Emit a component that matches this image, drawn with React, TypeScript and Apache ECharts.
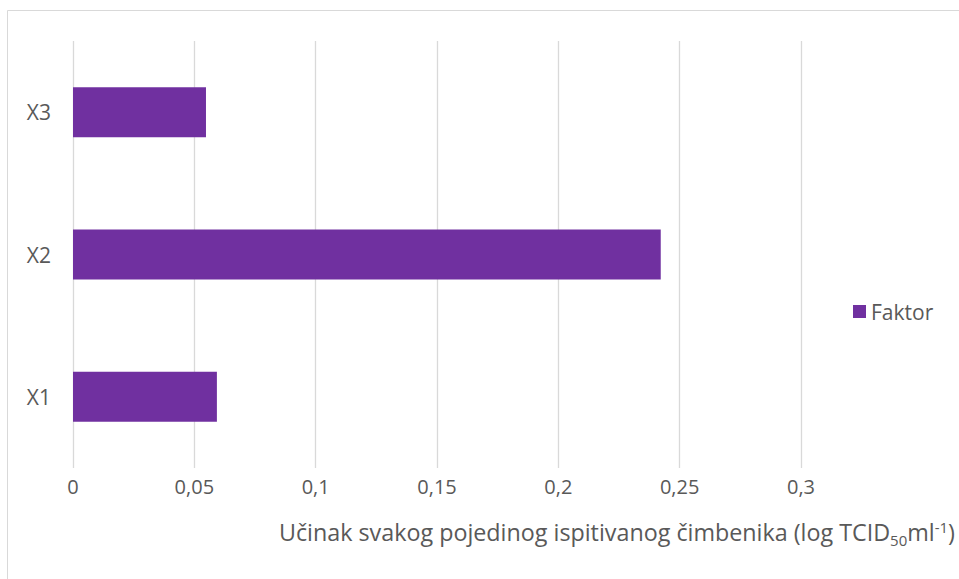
import React, { useEffect, useRef } from "react";
import * as echarts from "echarts";

const categories = ["X1", "X2", "X3"];
const values = [0.0593, 0.2422, 0.0548];
const seriesName = "Faktor";
const xTicks = { min: 0, max: 0.3, interval: 0.05 };

export default function App() {
  const ref = useRef<HTMLDivElement>(null);
  useEffect(() => {
    if (!ref.current) return;
    const chart = echarts.init(ref.current, null, { renderer: "svg" });
    const font = "'Open Sans', sans-serif";
    chart.setOption({
      animation: false,
      backgroundColor: "#ffffff",
      textStyle: { fontFamily: font },
      grid: { left: 73, right: 158, top: 41, bottom: 111, containLabel: false },
      legend: {
        data: [seriesName],
        left: 848,
        top: 296,
        itemWidth: 13,
        itemHeight: 13,
        itemGap: 6,
        icon: "rect",
        textStyle: { color: "#595959", fontSize: 21, fontFamily: font },
      },
      xAxis: {
        type: "value",
        min: xTicks.min,
        max: xTicks.max,
        interval: xTicks.interval,
        axisLine: { show: false },
        axisTick: { show: false },
        splitLine: { show: true, lineStyle: { color: "#d9d9d9", width: 1.3 } },
        axisLabel: {
          color: "#595959",
          fontSize: 20,
          fontFamily: font,
          margin: 8,
          formatter: (v: number) => String(Math.round(v * 100) / 100).replace(".", ","),
        },
      },
      yAxis: {
        type: "category",
        data: categories,
        axisLine: { show: false },
        axisTick: { show: false },
        axisLabel: { color: "#595959", fontSize: 21, fontFamily: font, margin: 22 },
      },
      series: [
        {
          name: seriesName,
          type: "bar",
          data: values,
          barWidth: 50,
          itemStyle: { color: "#7030A0" },
        },
      ],
      graphic: [
        {
          type: "rect",
          shape: { x: 7.5, y: 10.5, width: 2000, height: 2000 },
          style: { fill: "none", stroke: "#d9d9d9", lineWidth: 1 },
          silent: true,
        },
        {
          type: "text",
          right: 4,
          top: 515,
          style: {
            text: "{m|Učinak svakog pojedinog ispitivanog čimbenika (log TCID}{sub|50}{m|ml}{sup|-1}{m|)}",
            rich: {
              m: { fontSize: 23.3, fontFamily: font, fill: "#595959", lineHeight: 34, verticalAlign: "middle" },
              sub: { fontSize: 15, fontFamily: font, fill: "#595959", lineHeight: 34, verticalAlign: "bottom", padding: [0, 0, 2, 0] },
              sup: { fontSize: 15, fontFamily: font, fill: "#595959", lineHeight: 34, verticalAlign: "top", padding: [4, 0, 0, 0] },
            },
          },
        },
      ],
    });
    return () => chart.dispose();
  }, []);
  return (
    <div
      ref={ref}
      style={{ position: "fixed", left: 0, top: 0, width: 959, height: 579, background: "#fff" }}
    />
  );
}
